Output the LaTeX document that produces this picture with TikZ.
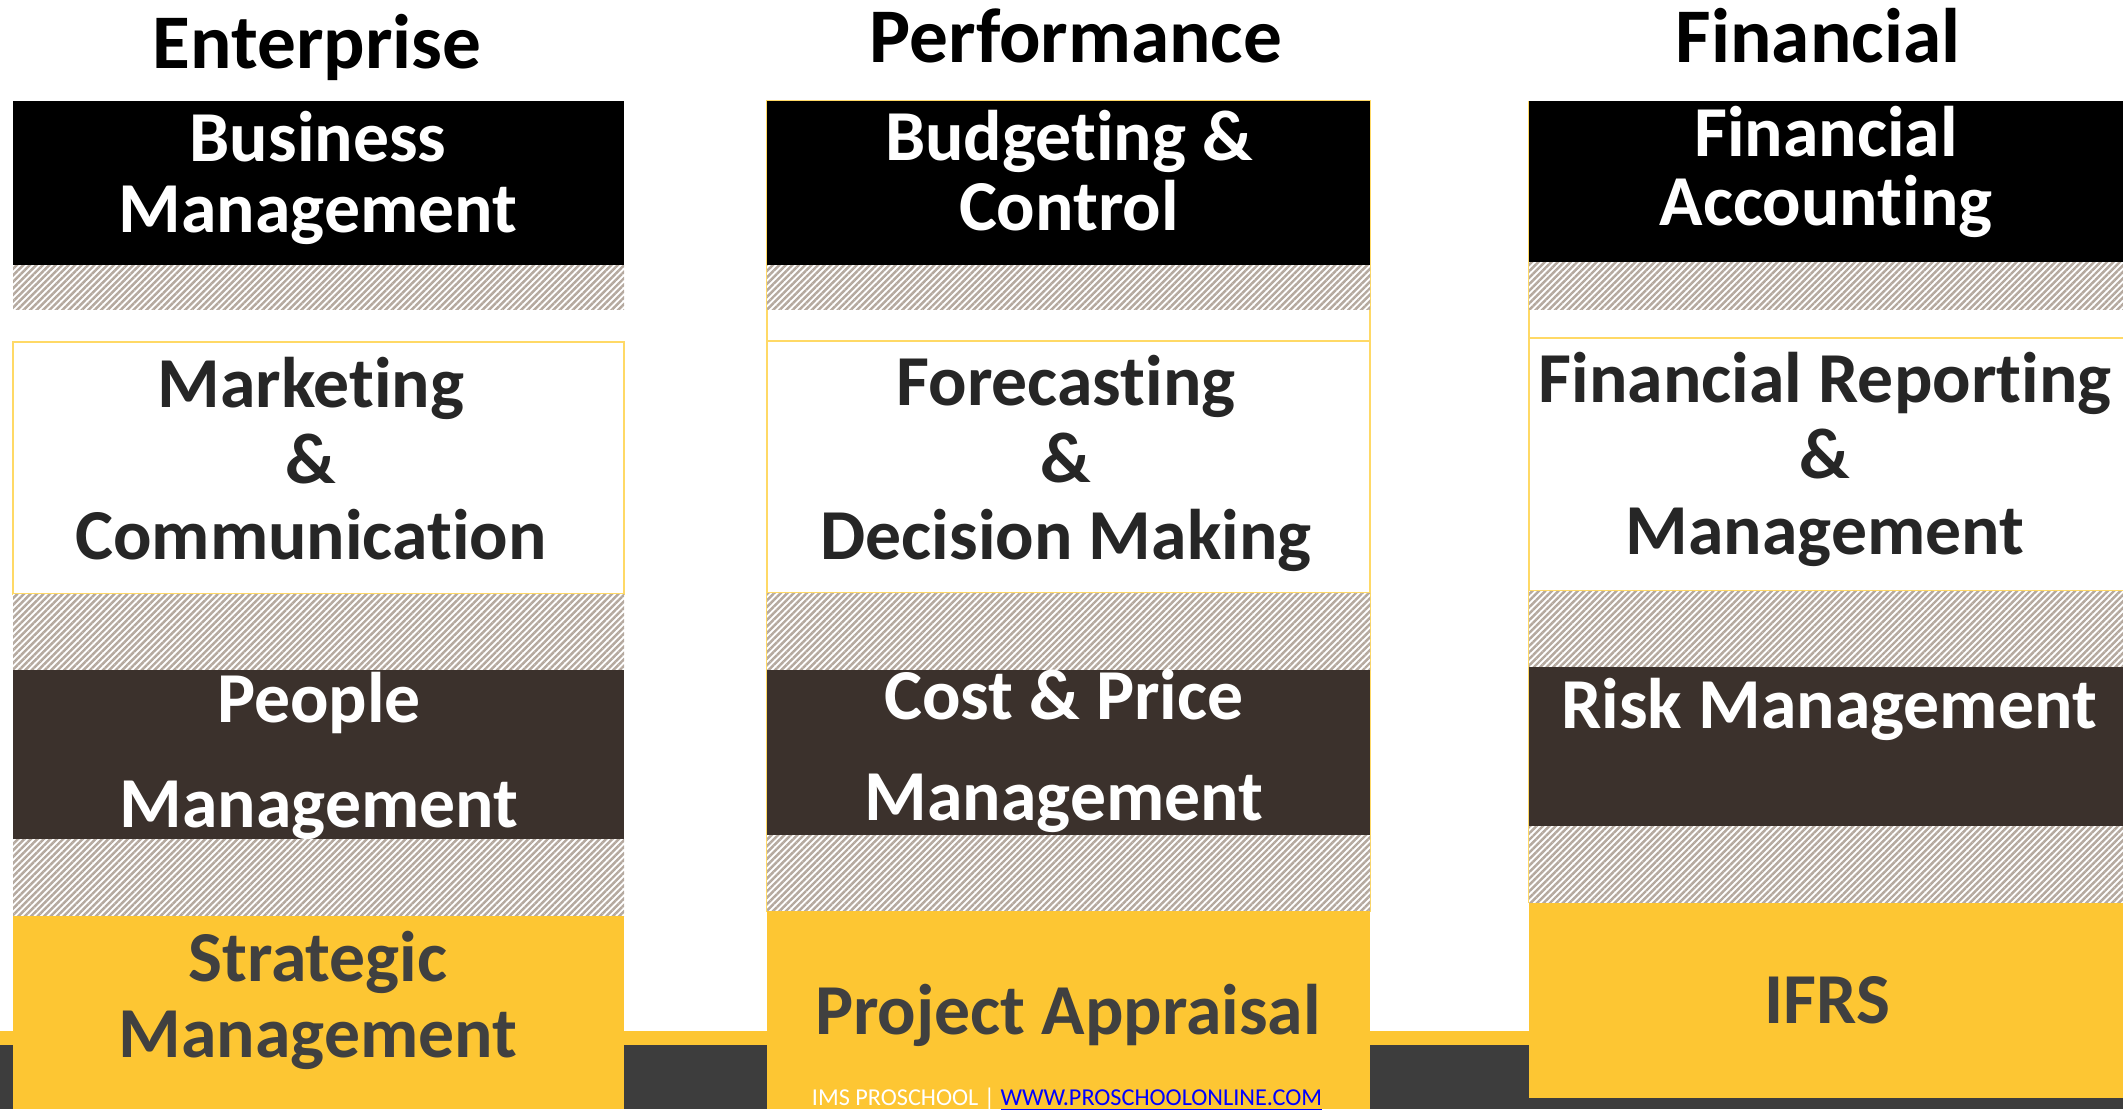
\documentclass[tikz,border=0pt]{standalone}
\usepackage{fontspec}
\setmainfont{Carlito}[Ligatures=NoCommon]
\usetikzlibrary{patterns.meta}

\definecolor{brownbox}{HTML}{3B312C}
\definecolor{yellowbox}{HTML}{FDC633}
\definecolor{footgray}{HTML}{3D3D3D}
\definecolor{stripe}{HTML}{B5A99F}
\definecolor{rimyellow}{HTML}{FFD966}
\definecolor{inkdark}{HTML}{262626}
\definecolor{inkgray}{HTML}{404040}
\definecolor{linkblue}{HTML}{0000FF}
\setlength{\lineskiplimit}{-50pt}

\begin{document}
\begin{tikzpicture}[x=0.1mm,y=-0.1mm,
  hatch/.style={preaction={fill=white},
    pattern={Lines[angle=45,distance=1.3pt,line width=0.7pt]},
    pattern color=stripe},
  whitebox/.style={fill=white,draw=rimyellow,line width=0.4pt},
  lbl/.style={font=\bfseries\fontsize{20.4}{#1}\selectfont,
    align=center,anchor=base,inner sep=0pt},
  lbl/.default=21.6,
  head/.style={font=\bfseries\fontsize{22}{26}\selectfont,
    anchor=base,inner sep=0pt}]
\useasboundingbox (0,0) rectangle (2123,1109);

% footer band
\fill[yellowbox] (0,1031) rectangle (2123,1045);
\fill[footgray] (0,1045) rectangle (2123,1109);

% Enterprise column
\fill (13,101) rectangle (624,265);
\path[hatch] (13,265) rectangle (624,309);
\draw[whitebox] (13,342) rectangle (624,594);
\path[hatch] (13,594) rectangle (624,670);
\fill[brownbox] (13,670) rectangle (624,839);
\path[hatch] (13,839) rectangle (624,916);
\fill[yellowbox] (13,916) rectangle (624,1109);

% Performance column
\draw[rimyellow,line width=0.4pt] (767,101) rectangle (1370,911);
\fill (767,101) rectangle (1370,265);
\path[hatch] (767,265) rectangle (1370,309);
\draw[whitebox] (767,341) rectangle (1370,593);
\path[hatch] (767,593) rectangle (1370,670);
\fill[brownbox] (767,670) rectangle (1370,835);
\path[hatch] (767,835) rectangle (1370,911);
\fill[yellowbox] (767,911) rectangle (1370,1109);

% Financial column
\draw[rimyellow,line width=0.4pt] (1529,101) -- (1529,903);
\fill (1529,101) rectangle (2123,262);
\path[hatch] (1529,262) rectangle (2123,309);
\draw[whitebox] (1529,338) rectangle (2130,591);
\path[hatch] (1529,591) rectangle (2123,667);
\fill[brownbox] (1529,667) rectangle (2123,826);
\path[hatch] (1529,826) rectangle (2123,903);
\fill[yellowbox] (1529,903) rectangle (2123,1098);

% headings
\node[head] (ent) at (317,68) {Enterprise};
\node[head] (perf) at (1076,62) {Performance};
\node[head] (fin) at (1818,62) {Financial};

% Enterprise labels (placed at the baseline of the last line)
\node[lbl=20.2,text=white] (bm) at (318,232) {Business\\Management};
\node[lbl,text=inkdark] (mc) at (311,559) {Marketing\\\&\\Communication};
\node[lbl=29.7,text=white] (pm) at (319,827) {People\\Management};
\node[lbl,text=inkgray] (sm) at (318,1057) {Strategic\\Management};

% Performance labels
\node[lbl=19.9,text=white] (bc) at (1069,230) {Budgeting \&\\Control};
\node[lbl=21.9,text=inkdark] (fd) at (1066,559) {Forecasting\\\&\\Decision Making};
\node[lbl=28.5,text=white] (cp) at (1064,820) {Cost \& Price\\Management};
\node[lbl,text=inkgray] (pa) at (1068,1034) {Project Appraisal};
\node[font=\fontsize{6.9}{8}\selectfont,anchor=base,inner sep=0pt,text=white]
  (foot) at (1067,1105)
  {IMS PROSCHOOL | \textcolor{linkblue}{\underline{WWW.PROSCHOOLONLINE.COM}}};

% Financial labels
\node[lbl=19.6,text=white] (fa) at (1826,225) {Financial\\Accounting};
\node[lbl,text=inkdark] (fr) at (1825,554) {Financial Reporting\\\&\\Management};
\node[lbl,text=white] (rm) at (1829,728) {Risk Management};
\node[lbl,text=inkgray] (ifrs) at (1827,1023) {IFRS};
\end{tikzpicture}
\end{document}
